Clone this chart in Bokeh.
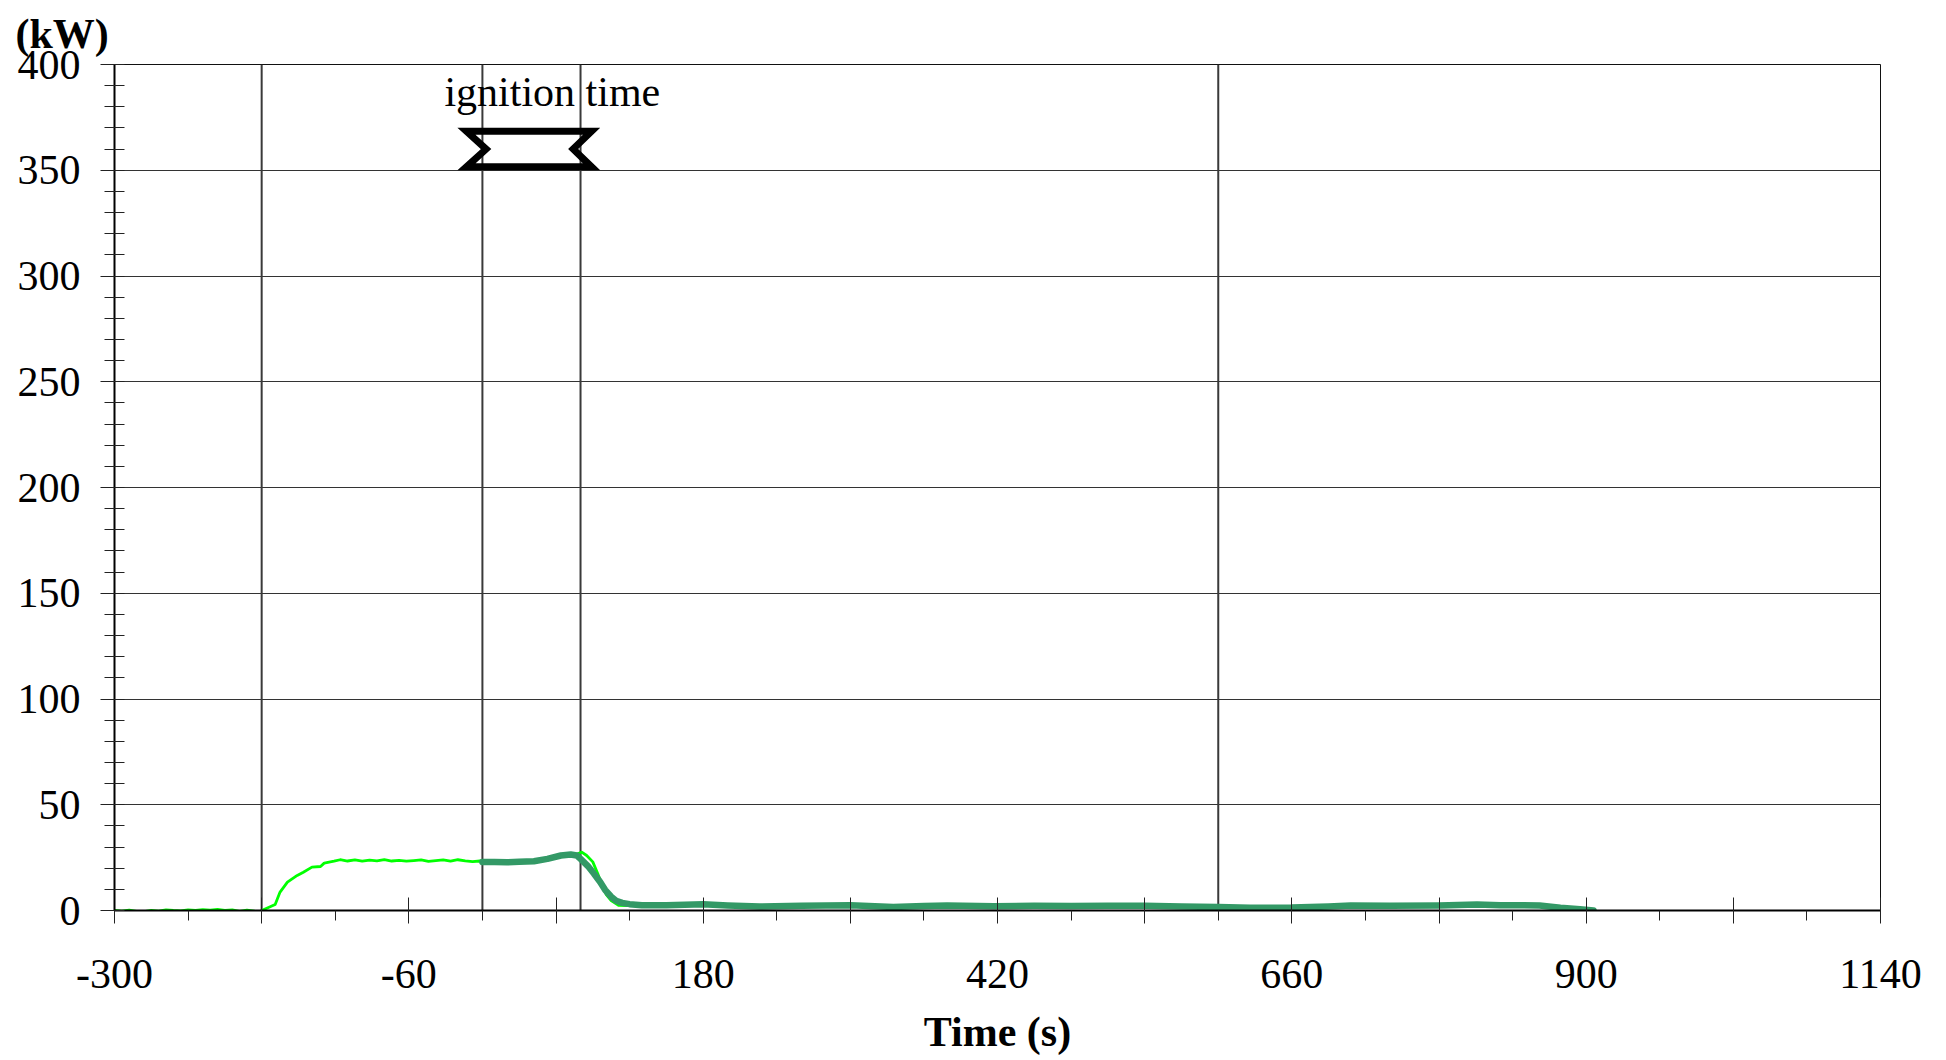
from bokeh.plotting import figure
from bokeh.models import Range1d, FixedTicker, Span, Label
from bokeh.embed import file_html
from bokeh.resources import INLINE

# ---- data ----
BRIGHT_T = [-300, -294, -288, -282, -276, -270, -264, -258, -252, -246,
            -240, -234, -228, -222, -216, -210, -204, -198, -192, -186,
            -183, -180, -174, -169, -165, -159, -151, -146, -139, -132, -129, -121, -116,
            -110, -104, -98, -92, -86, -80, -74, -68, -62, -56, -50, -44, -38, -32, -26, -20, -14, -8, -2,
            4, 10, 16, 22, 28, 34, 40, 46, 52, 58, 64, 70, 76,
            81, 85, 90, 94, 98, 101, 105, 111, 118, 126,
            150, 180, 210, 240, 270, 300, 330, 360, 390, 420, 450, 480, 510, 540, 570, 600, 630, 660,
            672, 690,
            720, 750, 780, 810, 840,
            862, 879, 895, 906]
BRIGHT_V = [0.0, -0.3, 0.2, -0.4, -0.5, 0.1, -0.3, 0.3, 0.0, -0.2,
            0.3, 0.0, 0.4, 0.2, 0.5, 0.1, 0.3, -0.4, 0.2, -0.3,
            -1.6, 0.0, 1.5, 2.8, 8.7, 13.4, 16.6, 18.1, 20.5, 20.8, 22.4, 23.3, 24.0,
            23.4, 23.9, 23.3, 23.8, 23.5, 24.1, 23.4, 23.7, 23.3, 23.6, 23.9, 23.2, 23.6, 23.9, 23.3, 24.0, 23.5, 23.1, 23.4,
            23.0, 23.3, 22.9, 23.4, 23.2, 23.5, 23.6, 24.0, 24.5, 25.0, 25.5, 25.9, 26.3,
            27.6, 26.0, 23.0, 17.5, 11.5, 7.5, 4.7, 2.4, 2.3, 2.6,
            2.5, 3.0, 2.2, 1.9, 2.1, 2.6, 1.8, 2.2, 2.3, 2.0, 2.1, 2.3, 2.2, 2.0, 1.7, 1.4, 1.2, 1.3,
            -0.2, 1.8,
            2.2, 2.4, 2.5, 2.7, 2.5,
            2.7, 1.4, 0.6, 0.0]

DARK_T = [0, 10, 20, 30, 42, 53, 64, 72, 77, 80,
          86, 91, 96, 100, 105, 109, 114, 120, 130, 150,
          180, 200, 226, 260, 300, 335, 360, 379, 417, 450,
          480, 510, 540, 570, 600, 626, 660, 690, 708, 740,
          780, 811, 830, 862, 879, 895, 906]
DARK_V = [22.9, 22.9, 22.8, 23.0, 23.3, 24.4, 26.0, 26.5, 26.0, 24.4,
          21.0, 17.4, 13.5, 9.8, 6.5, 4.6, 3.6, 3.0, 2.5, 2.5,
          2.9, 2.4, 1.9, 2.2, 2.5, 1.7, 2.1, 2.4, 2.0, 2.2,
          2.1, 2.3, 2.2, 1.9, 1.6, 1.3, 1.4, 1.9, 2.4, 2.3,
          2.4, 2.8, 2.5, 2.4, 1.3, 0.6, 0.0]

EVENT_TIMES = [-180, 0, 80, 600]
IGNITION = [0, 80]
IGNITION_LEVEL = 360

X_TICK_LABELS = [-300, -60, 180, 420, 660, 900, 1140]
Y_TICKS = [0, 50, 100, 150, 200, 250, 300, 350, 400]
X_RANGE = [-300, 1140]
Y_RANGE = [0, 400]

FONT = "Liberation Serif"
FS = "42px"

W, H = 1940, 1060
p = figure(width=W, height=H,
           x_range=Range1d(*X_RANGE), y_range=Range1d(*Y_RANGE),
           output_backend="svg", toolbar_location=None,
           min_border_left=114, min_border_right=W - 1880,
           min_border_top=64, min_border_bottom=H - 910)
p.background_fill_color = "white"
p.border_fill_color = "white"
p.outline_line_color = "#111111"
p.outline_line_width = 1

# y-axis unit shown as a title at the top left
p.title.text = "(kW)"
p.title.align = "left"
p.title.offset = -99
p.title.standoff = 16
p.title.text_font = FONT
p.title.text_font_size = FS
p.title.text_font_style = "bold"
p.title.text_color = "black"

# ticks
x_major = list(range(X_RANGE[0], X_RANGE[1] + 1, 120))
x_minor = list(range(X_RANGE[0], X_RANGE[1] + 1, 60))
y_minor = list(range(Y_RANGE[0], Y_RANGE[1] + 1, 10))
p.xaxis.ticker = FixedTicker(ticks=x_major, minor_ticks=x_minor)
p.xaxis.major_label_overrides = {t: (str(t) if t in X_TICK_LABELS else "") for t in x_major}
p.yaxis.ticker = FixedTicker(ticks=Y_TICKS, minor_ticks=y_minor)

for ax in (p.xaxis, p.yaxis):
    ax.axis_line_color = "black"
    ax.axis_line_width = 2
    ax.major_tick_line_color = "#222222"
    ax.minor_tick_line_color = "#222222"
    ax.major_tick_line_width = 1
    ax.minor_tick_line_width = 1
    ax.major_label_text_font = FONT
    ax.major_label_text_font_size = FS
    ax.major_label_text_color = "black"

p.xaxis.major_tick_in = 13
p.xaxis.major_tick_out = 13
p.xaxis.minor_tick_in = 0
p.xaxis.minor_tick_out = 10
p.xaxis.major_label_standoff = 36
p.xaxis.axis_label = "Time (s)"
p.xaxis.axis_label_text_font = FONT
p.xaxis.axis_label_text_font_size = FS
p.xaxis.axis_label_text_font_style = "bold"
p.xaxis.axis_label_text_color = "black"
p.xaxis.axis_label_standoff = 18

p.yaxis.major_tick_in = 0
p.yaxis.major_tick_out = 14
p.yaxis.minor_tick_in = 10
p.yaxis.minor_tick_out = 10
p.yaxis.major_label_standoff = 20

p.xgrid.grid_line_color = None
p.ygrid.ticker = FixedTicker(ticks=Y_TICKS)
p.ygrid.grid_line_color = "#333333"
p.ygrid.grid_line_width = 1

for t in EVENT_TIMES:
    p.add_layout(Span(location=t, dimension="height", line_color="#3a3a3a",
                      line_width=2, level="underlay"))

# data lines
p.line(BRIGHT_T, BRIGHT_V, line_color="#00FF00", line_width=2.8, line_join="round")
p.line(DARK_T, DARK_V, line_color="#339966", line_width=6.5, line_join="round", line_cap="round")

# ignition-time marker (double chevron band between ignition bounds)
s, e = IGNITION
mid = IGNITION_LEVEL
top, bot = mid + 8.4, mid - 8.4
mx = [s - 13, e + 9, e - 6, e + 9, s - 13, s + 3]
my = [top, top, mid, bot, bot, mid]
p.patch(mx, my, fill_alpha=0, line_color="black", line_width=7, line_join="miter")

p.add_layout(Label(x=57, y=387, text="ignition time", text_font=FONT, text_font_size=FS,
                   text_align="center", text_baseline="alphabetic", text_color="black"))

open("out.html", "w").write(file_html(p, INLINE))
